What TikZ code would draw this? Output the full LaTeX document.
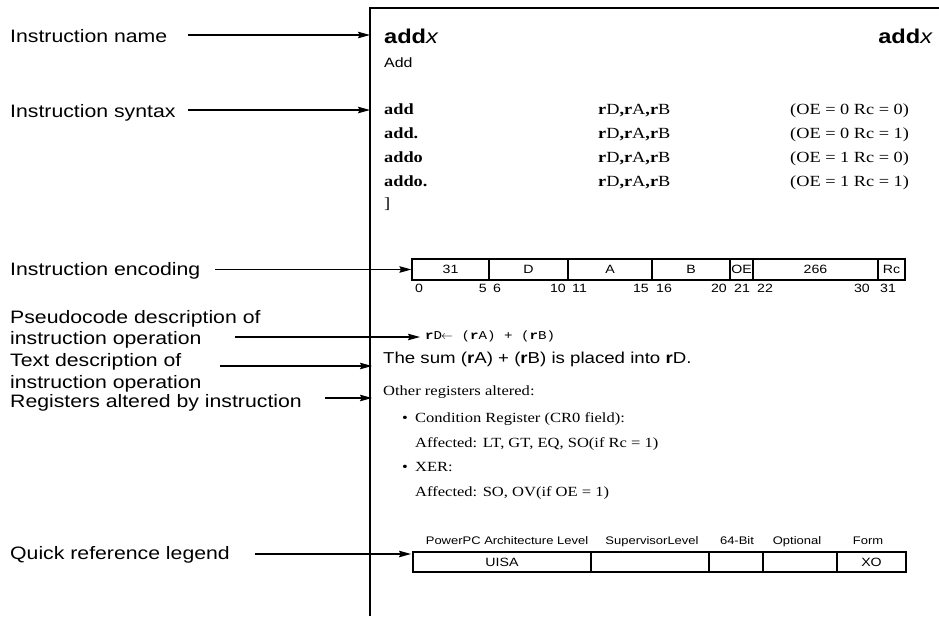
\documentclass[tikz,border=0pt]{standalone}
\usepackage{fontspec}
\setmainfont[FakeStretch=1.18]{Liberation Serif}
\setsansfont[FakeStretch=1.18]{Liberation Sans}
\setmonofont[FakeStretch=1.18]{Liberation Mono}
\usetikzlibrary{arrows.meta}
\begin{document}
\begin{tikzpicture}[x=1pt,y=-1pt,
  lbl/.style={anchor=base west,inner sep=0pt,font=\sffamily\fontsize{18}{21}\selectfont},
  arr/.style={line width=1.2pt,-{Stealth[length=12pt,width=6.5pt,inset=1.5pt]}},
  syn/.style={anchor=base west,inner sep=0pt,font=\rmfamily\fontsize{15.5}{18}\selectfont},
  body/.style={anchor=base west,inner sep=0pt,font=\rmfamily\fontsize{14}{16}\selectfont},
  cell/.style={draw,line width=1.1pt,inner sep=0pt,minimum height=21pt,font=\sffamily\fontsize{12}{14}\selectfont},
  gcell/.style={draw,line width=1.1pt,inner sep=0pt,minimum height=20pt,font=\sffamily\fontsize{12}{14}\selectfont},
  bit/.style={anchor=base,inner sep=0pt,font=\sffamily\fontsize{12}{14}\selectfont},
  hdr/.style={anchor=base,inner sep=0pt,font=\sffamily\fontsize{11}{13}\selectfont}]
\useasboundingbox (0,0) rectangle (939,616);
% frame
\coordinate (ftl) at (370,8);
\coordinate (ftr) at (939,8);
\coordinate (fbl) at (370,616);
\draw[line width=1.6pt] (ftr) -- (ftl) -- (fbl);

% left labels
\node[lbl] (l1) at (10,42) {Instruction name};
\node[lbl] (l2) at (10,117) {Instruction syntax};
\node[lbl] (l3) at (10,275) {Instruction encoding};
\node[lbl] (l4a) at (10,323) {Pseudocode description of};
\node[lbl] (l4b) at (10,344) {instruction operation};
\node[lbl] (l5a) at (10,366) {Text description of};
\node[lbl] (l5b) at (10,388) {instruction operation};
\node[lbl] (l6) at (10,407) {Registers altered by instruction};
\node[lbl] (l7) at (10,559) {Quick reference legend};

% arrow coordinates
\coordinate (s1) at (188,35);  \coordinate (t1) at (370,35);
\coordinate (s2) at (188,110); \coordinate (t2) at (370,110);
\coordinate (s3) at (215,269.5); 
\coordinate (s4) at (235,337); \coordinate (t4) at (420,337);
\coordinate (s5) at (220,366); \coordinate (t5) at (372,366);
\coordinate (s6) at (325,398); \coordinate (t6) at (372,398);
\coordinate (s7) at (255,554); \coordinate (t7) at (411,554);

% title
\node[anchor=base west,inner sep=0pt,font=\sffamily\fontsize{20}{24}\selectfont] (tl) at (384,43) {\textbf{add}\textit{x}};
\node[anchor=base east,inner sep=0pt,font=\sffamily\fontsize{20}{24}\selectfont] (tr) at (933,43) {\textbf{add}\textit{x}};
\node[anchor=base west,inner sep=0pt,font=\sffamily\fontsize{13.5}{16}\selectfont] (tadd) at (384,67) {Add};

% syntax
\node[syn] (a1) at (384,114) {\textbf{add}};
\node[syn] (a2) at (384,138) {\textbf{add.}};
\node[syn] (a3) at (384,162) {\textbf{addo}};
\node[syn] (a4) at (384,186) {\textbf{addo.}};
\node[syn] (a5) at (384,208) {]};
\foreach \y/\n in {114/1,138/2,162/3,186/4}{
  \node[syn] (b\n) at (598,\y) {\textbf{r}D\textbf{,r}A\textbf{,r}B};
}
\node[syn] (c1) at (790,114) {(OE = 0 Rc = 0)};
\node[syn] (c2) at (790,138) {(OE = 0 Rc = 1)};
\node[syn] (c3) at (790,162) {(OE = 1 Rc = 0)};
\node[syn] (c4) at (790,186) {(OE = 1 Rc = 1)};

% encoding
\node[cell,minimum width=77pt] (f1) at (450.5,269.5) {31};
\node[cell,minimum width=79pt] (f2) at (528.5,269.5) {D};
\node[cell,minimum width=84pt] (f3) at (610,269.5) {A};
\node[cell,minimum width=78pt] (f4) at (691,269.5) {B};
\node[cell,minimum width=23pt] (f5) at (741.5,269.5) {OE};
\node[cell,minimum width=125pt] (f6) at (815.5,269.5) {266};
\node[cell,minimum width=27pt] (f7) at (891.5,269.5) {Rc};
\node[bit,anchor=base west] (n0) at (415,292) {0};
\node[bit,anchor=base east] (n5) at (487,292) {5};
\node[bit,anchor=base west] (n6) at (493,292) {6};
\node[bit,anchor=base east] (n10) at (566,292) {10};
\node[bit,anchor=base west] (n11) at (572,292) {11};
\node[bit,anchor=base east] (n15) at (649,292) {15};
\node[bit,anchor=base west] (n16) at (656,292) {16};
\node[bit,anchor=base east] (n20) at (727,292) {20};
\node[bit] (n21) at (742,292) {21};
\node[bit,anchor=base west] (n22) at (757,292) {22};
\node[bit,anchor=base east] (n30) at (870,292) {30};
\node[bit,anchor=base west] (n31) at (880,292) {31};

% pseudocode and text
\node[anchor=base west,inner sep=0pt,font=\ttfamily\fontsize{12}{14}\selectfont] (pc) at (425,339) {\textbf{r}D\kern-1pt$\leftarrow$ (\textbf{r}A) + (\textbf{r}B)};
\node[anchor=base west,inner sep=0pt,font=\sffamily\fontsize{15.8}{18}\selectfont] (td) at (383,363) {The sum (\textbf{r}A) + (\textbf{r}B) is placed into \textbf{r}D.};

% registers
\node[body] (oth) at (383,395) {Other registers altered:};
\node[body] (bu1) at (402,422) {•};
\node[body] (r1) at (415,422) {Condition Register (CR0 field):};
\node[body] (r2) at (415,447) {Affected: LT, GT, EQ, SO(if Rc = 1)};
\node[body] (bu2) at (402,471) {•};
\node[body] (r3) at (415,471) {XER:};
\node[body] (r4) at (415,496) {Affected: SO, OV(if OE = 1)};

% legend
\node[gcell,minimum width=178pt] (g1) at (502,562) {UISA};
\node[gcell,minimum width=118pt] (g2) at (650,562) {};
\node[gcell,minimum width=54pt] (g3) at (736,562) {};
\node[gcell,minimum width=74pt] (g4) at (800,562) {};
\node[gcell,minimum width=69pt] (g5) at (871.5,562) {XO};
\node[hdr] (h1) at (507,544) {PowerPC Architecture Level};
\node[hdr] (h2) at (652,544) {SupervisorLevel};
\node[hdr] (h3) at (737,544) {64-Bit};
\node[hdr] (h4) at (797,544) {Optional};
\node[hdr] (h5) at (868,544) {Form};

% arrows
\draw[arr] (s1) -- (t1);
\draw[arr] (s2) -- (t2);
\draw[arr] (s3) -- (f1.west);
\draw[arr] (s4) -- (t4);
\draw[arr] (s5) -- (t5);
\draw[arr] (s6) -- (t6);
\draw[arr] (s7) -- (t7);
\end{tikzpicture}
\end{document}
